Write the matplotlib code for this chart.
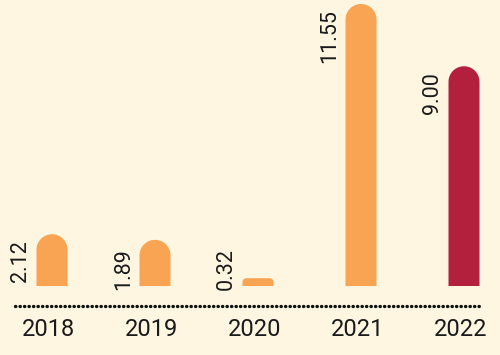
import numpy as np
import matplotlib.pyplot as plt
from matplotlib.patches import Polygon

years = ["2018", "2019", "2020", "2021", "2022"]
values = [2.12, 1.89, 0.32, 11.55, 9.00]
colors = ["#F9A452", "#F9A452", "#F9A452", "#F9A452", "#B3203E"]

bg = "#FEF6E1"
plt.rcParams['font.family'] = ['Roboto', 'DejaVu Sans']

fig = plt.figure(figsize=(5, 3.55), dpi=100, facecolor=bg)
ax = fig.add_axes([0, 0, 1, 1])
ax.set_facecolor(bg)
ax.axis("off")

# pixel geometry: 103 px between bars, ~24.4 px per unit
px_x = 103.0
px_y = 282 / 11.55
ax.set_xlim(-52 / px_x, (500 - 52) / px_x)
ax.set_ylim(-69 / px_y, (355 - 69) / px_y)

bar_px = 31


def rounded_bar(xc, v):
    # bar with rounded top corners, radius given in pixels
    r_px = min(bar_px / 2, v * px_y / 2)
    rx, ry = r_px / px_x, r_px / px_y
    hw = bar_px / 2 / px_x
    t = np.linspace(0, np.pi / 2, 20)
    left_arc = np.column_stack([xc - hw + rx - rx * np.cos(t), v - ry + ry * np.sin(t)])
    right_arc = np.column_stack([xc + hw - rx + rx * np.sin(t), v - ry + ry * np.cos(t)])
    pts = np.vstack([[xc - hw, 0], left_arc, right_arc, [xc + hw, 0]])
    return pts


for i, (v, c) in enumerate(zip(values, colors)):
    ax.add_patch(Polygon(rounded_bar(i, v), closed=True, fc=c, ec="none"))
    left = i - bar_px / 2 / px_x

    lab = f"{v:.2f}"
    if v * px_y > 50:
        ax.annotate(lab, (left, v), xytext=(-4, -4), textcoords="offset points",
                    rotation=90, ha="right", va="top", fontsize=15.5, color="#1a1a1a")
    else:
        ax.annotate(lab, (left, 0), xytext=(-4, -3), textcoords="offset points",
                    rotation=90, ha="right", va="bottom", fontsize=15.5, color="#1a1a1a")

    ax.text(i - 0.03, -1.8, years[i], ha="center", va="center", fontsize=17, color="#1a1a1a")

# dotted baseline
ax.plot([-0.36, 4.17], [-0.82, -0.82], color="#111111", lw=2.4,
        linestyle=(0, (0.1, 1.25)), dash_capstyle="round")

fig.savefig("out.png", dpi=100, facecolor=bg)
